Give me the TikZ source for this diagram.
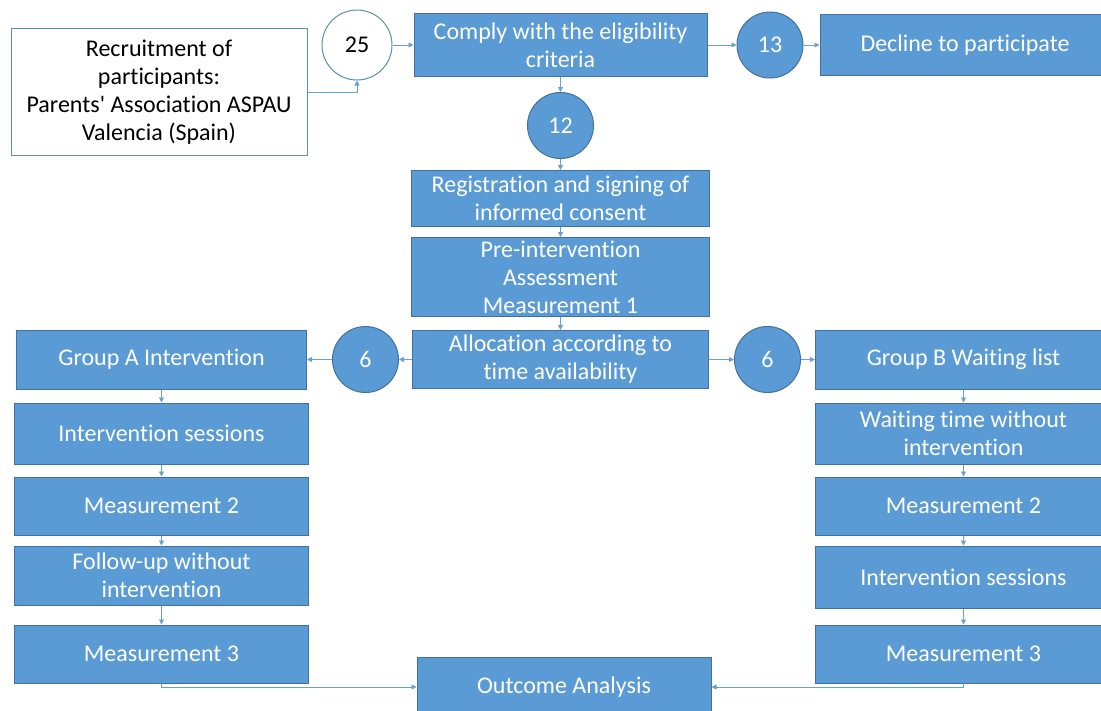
\documentclass[tikz,border=0pt]{standalone}
\usepackage{fontspec}
\setmainfont{Carlito}[Ligatures=NoCommon]
\usetikzlibrary{positioning,arrows.meta}
\definecolor{boxfill}{HTML}{5B9BD5}
\definecolor{boxedge}{HTML}{41719C}
\definecolor{linkblue}{HTML}{6A9FD0}
\definecolor{greyedge}{HTML}{5E8FA8}
\tikzset{
  blockbox/.style={rectangle, draw=boxedge, line width=1pt, fill=boxfill, text=white,
    minimum width=294pt, minimum height=59pt, align=center, inner sep=1pt,
    font=\fontsize{24}{28}\selectfont},
  countdot/.style={circle, draw=boxedge, line width=1pt, fill=boxfill, text=white,
    minimum size=66pt, inner sep=0pt, font=\fontsize{24}{28}\selectfont},
  link/.style={draw=linkblue, line width=0.8pt, -{Triangle[length=5pt,width=5pt]}}
}
\begin{document}
\begin{tikzpicture}[x=1pt, y=-1pt]
    \useasboundingbox (0,0) rectangle (1101,710);
    % Define nodes
    \node [rectangle, draw=greyedge, line width=1pt, fill=white, minimum width=296pt, minimum height=127pt,
      align=center, font=\fontsize{24}{28}\selectfont] (recruit) at (159,92)
      {Recruitment of\\participants:\\Parents\textquotesingle{} Association ASPAU\\Valencia (Spain)};
    \node [circle, draw=greyedge, line width=1pt, fill=white, minimum size=70pt, inner sep=0pt,
      font=\fontsize{24}{28}\selectfont] (c25) at (357,45) {25};
    \node [blockbox, minimum width=293pt, minimum height=63pt, right=21pt of c25] (comply) {Comply with the eligibility\\criteria};
    \node [countdot, right=29pt of comply] (c13) {13};
    \node [blockbox, minimum width=290pt, minimum height=61pt, right=16pt of c13] (decline) {Decline to participate};
    \node [countdot, below=15pt of comply] (c12) {12};
    \node [blockbox, minimum width=298pt, minimum height=56pt, below=11pt of c12] (reg) {Registration and signing of\\informed consent};
    \node [blockbox, minimum width=298pt, minimum height=79pt, below=10pt of reg] (pre) {Pre-intervention\\Assessment\\Measurement 1};
    \node [blockbox, minimum width=296pt, minimum height=58pt, below=13pt of pre] (alloc) {Allocation according to\\time availability};

    % Group A
    \node [countdot, left=13pt of alloc] (c6a) {6};
    \node [blockbox, minimum width=290pt, left=25pt of c6a] (grpA) {Group A Intervention};
    \node [blockbox, minimum height=61pt, below=13pt of grpA] (sesA) {Intervention sessions};
    \node [blockbox, minimum height=58pt, below=12pt of sesA] (meas2A) {Measurement 2};
    \node [blockbox, below=10pt of meas2A] (followA) {Follow-up without\\intervention};
    \node [blockbox, minimum height=58pt, below=19pt of followA] (meas3A) {Measurement 3};

    % Group B
    \node [countdot, right=25pt of alloc] (c6b) {6};
    \node [blockbox, minimum width=296pt, right=14pt of c6b] (grpB) {Group B Waiting list};
    \node [blockbox, minimum width=296pt, minimum height=61pt, below=13pt of grpB] (waitB) {Waiting time without\\intervention};
    \node [blockbox, minimum width=296pt, minimum height=58pt, below=12pt of waitB] (meas2B) {Measurement 2};
    \node [blockbox, minimum width=296pt, minimum height=62pt, below=10pt of meas2B] (sesB) {Intervention sessions};
    \node [blockbox, minimum width=296pt, minimum height=58pt, below=16pt of sesB] (meas3B) {Measurement 3};

    \node [blockbox, minimum width=294pt, minimum height=60pt] (outcome) at (564,687) {Outcome Analysis};

    % Draw edges
    \draw [link] (recruit.east) -| (c25.south);
    \draw [link] (c25) -- (comply);
    \draw [link] (comply) -- (c13);
    \draw [link] (c13) -- (decline);
    \draw [link] (comply) -- (c12);
    \draw [link] (c12) -- (reg);
    \draw [link] (reg) -- (pre);
    \draw [link] (pre) -- (alloc);
    \draw [link] (alloc) -- (c6a);
    \draw [link] (c6a) -- (grpA);
    \draw [link] (alloc) -- (c6b);
    \draw [link] (c6b) -- (grpB);
    \draw [link] (grpA) -- (sesA);
    \draw [link] (sesA) -- (meas2A);
    \draw [link] (meas2A) -- (followA);
    \draw [link] (followA) -- (meas3A);
    \draw [link] (grpB) -- (waitB);
    \draw [link] (waitB) -- (meas2B);
    \draw [link] (meas2B) -- (sesB);
    \draw [link] (sesB) -- (meas3B);
    \draw [link] (meas3A.south) |- (outcome.west);
    \draw [link] (meas3B.south) |- (outcome.east);
\end{tikzpicture}
\end{document}
